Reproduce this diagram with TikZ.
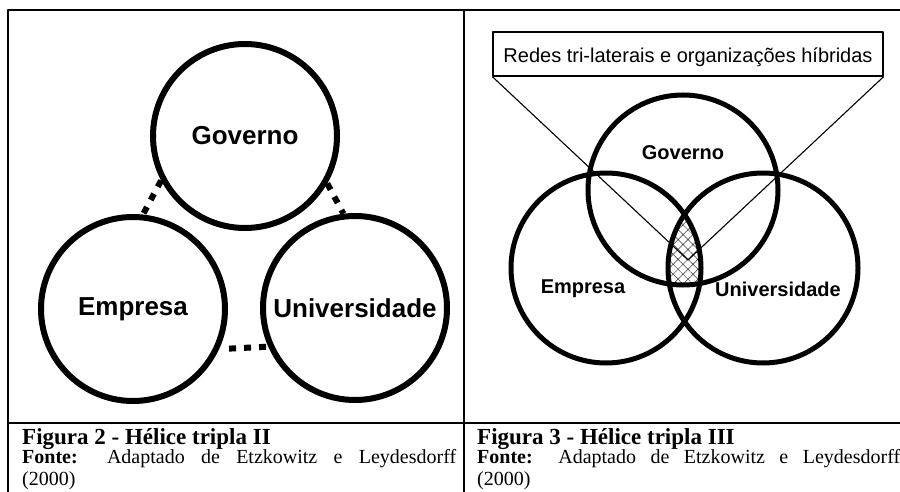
\documentclass[tikz,border=0pt]{standalone}
\usepackage{fontspec}
\setmainfont{Liberation Serif}
\setsansfont{Liberation Sans}
\usetikzlibrary{patterns.meta}

\begin{document}
\begin{tikzpicture}[x=1pt,y=-1pt, line join=round,
		frame/.style={line width=1.4pt},
		helix/.style={circle, draw, line width=6pt, minimum size=184pt, inner sep=0pt, font=\sffamily\bfseries\fontsize{26}{30}\selectfont},
		venn/.style={circle, draw, line width=5pt, minimum size=190pt, inner sep=0pt},
		lbl/.style={anchor=base, inner sep=0pt, font=\sffamily\bfseries\fontsize{20}{24}\selectfont},
		dotlink/.style={line width=6pt, dash pattern=on 7pt off 8pt},
		figcap/.style={anchor=base west, inner sep=0pt, font=\bfseries\fontsize{23}{26}\selectfont},
		src/.style={anchor=base west, inner sep=0pt, font=\fontsize{20}{22}\selectfont}]
		\useasboundingbox (0,0) rectangle (900,492);
		% moldura
		\draw[frame] (900,10) -- (8,10) -- (8,492);
		\draw[frame] (464,10) -- (464,492);
		\draw[frame] (8,423) -- (900,423);
		% helice tripla II
		\node[helix] (gov) at (245,136) {Governo};
		\node[helix] (emp) at (133,309) {Empresa};
		\node[helix] (uni) at (355,308) {Universidade};
		\draw[dotlink] (gov.208) -- (emp.84);
		\draw[dotlink] (gov.-30) -- (uni.97);
		\draw[dotlink, shorten <=10pt] (emp.-25) -- (uni.204);
		% helice tripla III
		\coordinate (cg) at (683,190);
		\coordinate (ce) at (606,268);
		\coordinate (cu) at (763,268);
		\begin{scope}
			\clip (ce) circle[radius=95];
			\clip (cu) circle[radius=95];
			\fill[pattern={Hatch[angle=45,distance=7pt,line width=.5pt]}, pattern color=black!80] (cg) circle[radius=95];
		\end{scope}
		\node[venn] (rgov) at (cg) {};
		\node[venn] (remp) at (ce) {};
		\node[venn] (runi) at (cu) {};
		\node[lbl] (rgovL) at (683,160) {Governo};
		\node[lbl] (rempL) at (583,293) {Empresa};
		\node[lbl] (runiL) at (778,296) {Universidade};
		\node[draw, line width=1.3pt, minimum width=390pt, minimum height=44pt, inner sep=0pt, text height=18pt, text depth=0pt, font=\sffamily\fontsize{20}{24}\selectfont] (redes) at (688,54) {Redes tri-laterais e organizações híbridas};
		\coordinate (hib) at (688,260);
		\draw[line width=1.1pt] (redes.south west) -- (hib) -- (redes.south east);
		% legendas
		\node[figcap] (fig2) at (22,444) {Figura 2 - Hélice tripla II};
		\node[src] (src2) at (22,463) {\parbox[t]{434pt}{\textbf{Fonte:} Adaptado de Etzkowitz e Leydesdorff\linebreak (2000)}};
		\node[figcap] (fig3) at (477,444) {Figura 3 - Hélice tripla III};
		\node[src] (src3) at (477,463) {\parbox[t]{423pt}{\textbf{Fonte:} Adaptado de Etzkowitz e Leydesdorff\linebreak (2000)}};
\end{tikzpicture}
\end{document}
